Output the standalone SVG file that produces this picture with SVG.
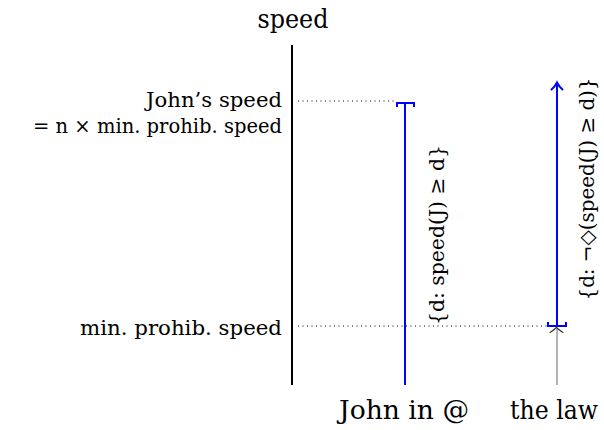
<svg xmlns="http://www.w3.org/2000/svg" width="604" height="430" viewBox="0 0 604 430" font-family="'DejaVu Serif', serif">
<style>
text{fill:#000}
.side{font-size:21px;text-anchor:end}
.big{font-size:26px;text-anchor:middle}
.rot{font-size:21px;text-anchor:middle}
.dot{stroke:#000;stroke-width:1;stroke-dasharray:1 3.5;fill:none}
.blue{stroke:#0000ff;stroke-width:2;fill:none}
</style>
<rect width="604" height="430" fill="#fff"/>
<g id="axis">
<line x1="292" y1="45" x2="292" y2="385" stroke="#000" stroke-width="2"/>
<text class="big" x="293" y="28" font-family="'DejaVu Serif', serif" textLength="71" lengthAdjust="spacingAndGlyphs">speed</text>
</g>
<g id="tick-john">
<text class="side" x="282" y="107" font-family="'DejaVu Serif', serif" textLength="136" lengthAdjust="spacingAndGlyphs">John’s speed</text>
<text class="side" x="282" y="133" font-family="'DejaVu Serif', serif" textLength="249" lengthAdjust="spacingAndGlyphs">= n × min. prohib. speed</text>
</g>
<g id="tick-min">
<text class="side" x="282" y="335" font-family="'DejaVu Serif', serif" textLength="202" lengthAdjust="spacingAndGlyphs">min. prohib. speed</text>
</g>
<g id="john">
<path class="blue" d="M405,103 V385 M397,107 V103 H414 V107"/>
<text class="rot" transform="translate(444,235) rotate(-90)" font-family="'DejaVu Serif', serif" textLength="180" lengthAdjust="spacingAndGlyphs">{d: speed(J) ≥ d}</text>
<text class="big" x="404" y="419" font-family="'DejaVu Serif', serif" textLength="130" lengthAdjust="spacingAndGlyphs">John in @</text>
</g>
<g id="law">
<path class="blue" d="M557,326 V84 M548,322 V326 H566 V322"/>
<path class="blue" d="M551.5,89.5 Q555,86.5 557,82.5 Q559,86.5 562.5,89.5" stroke-linecap="round"/>
<text class="rot" transform="translate(594,189) rotate(-90)" font-family="'DejaVu Serif', serif" textLength="223" lengthAdjust="spacingAndGlyphs">{d: ¬◇(speed(J) ≥ d)}</text>
<text class="big" x="554" y="419" font-family="'DejaVu Serif', serif" textLength="88" lengthAdjust="spacingAndGlyphs">the law</text>
</g>
<g id="connectors">
<line class="dot" x1="298" y1="101" x2="397" y2="101"/>
<line class="dot" x1="298" y1="326" x2="547" y2="326"/>
<line x1="557" y1="385" x2="557" y2="329" stroke="#808080" stroke-width="1.2"/>
<path d="M550,332.5 Q554,330 556.5,327.5 Q559,330 563,332.5" fill="none" stroke="#333" stroke-width="1.1" stroke-linecap="round"/>
</g>
</svg>
